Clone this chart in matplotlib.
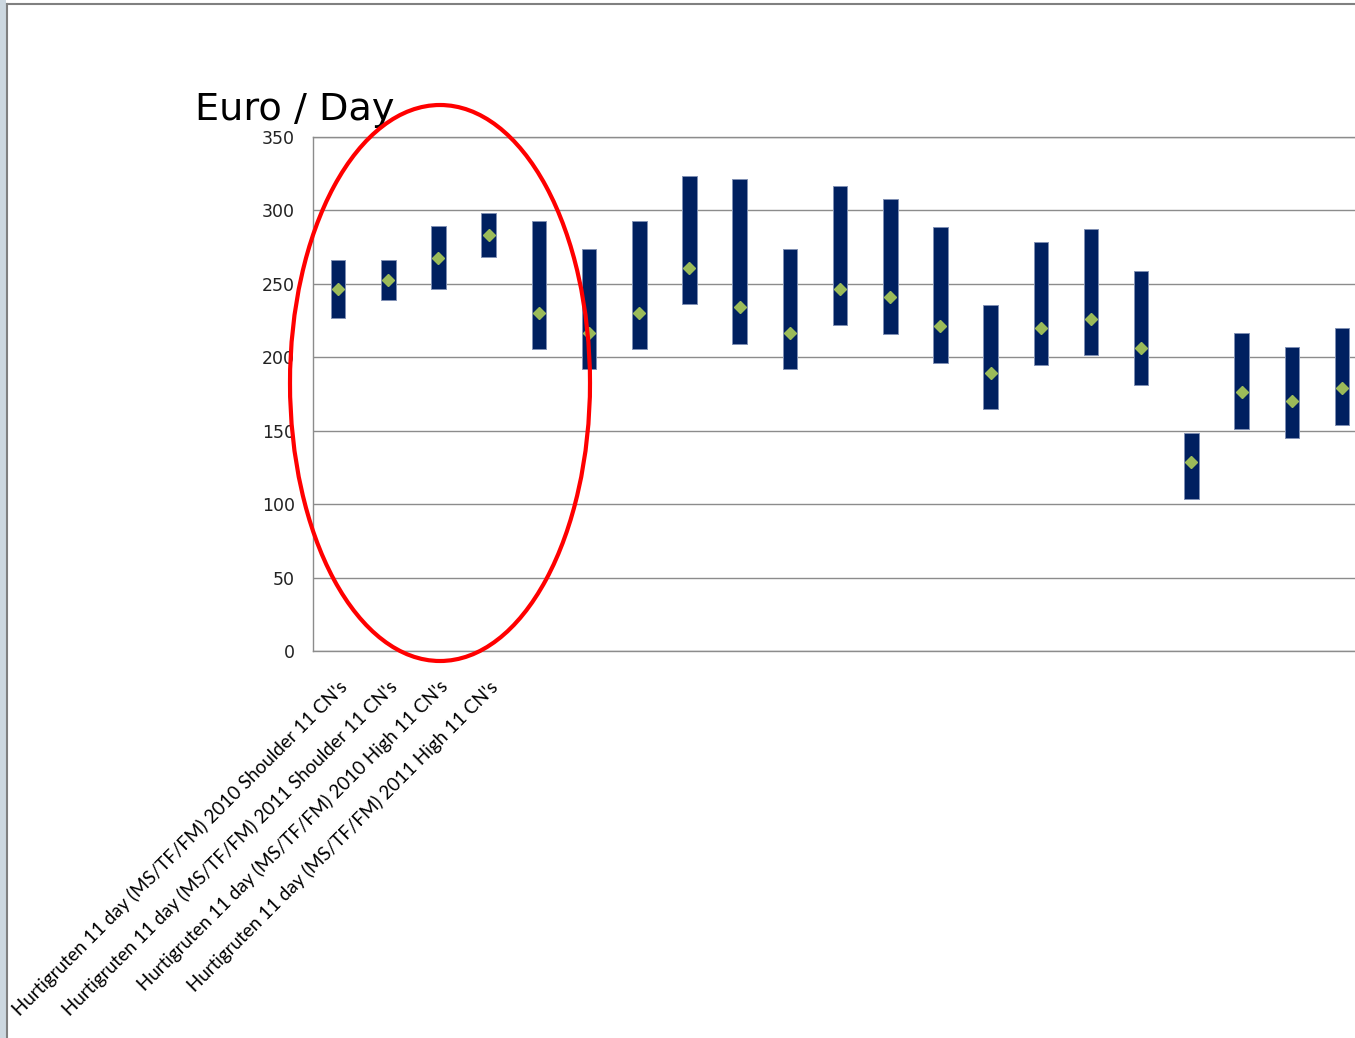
"""Euro / Day price ranges per cruise product (low-high bar + average diamond)."""
import matplotlib
matplotlib.use("Agg")
import matplotlib.pyplot as plt
import matplotlib.transforms as mtransforms
from matplotlib.lines import Line2D
from matplotlib.patches import Ellipse, Rectangle
import numpy as np

W, H = 1355, 1038

labels = [
    "Hurtigruten 11 day (MS/TF/FM) 2010 Shoulder 11 CN's",
    "Hurtigruten 11 day (MS/TF/FM) 2011 Shoulder 11 CN's",
    "Hurtigruten 11 day (MS/TF/FM) 2010 High 11 CN's",
    "Hurtigruten 11 day (MS/TF/FM) 2011 High 11 CN's",
] + [""] * 17

low = [226.5, 239.3, 246.3, 268.5, 205.4, 191.8, 205.4, 236.1, 209.0, 191.8, 221.8,
       215.9, 196.1, 164.8, 194.5, 201.3, 180.9, 103.8, 151.2, 145.0, 153.9]
high = [266.0, 266.0, 289.4, 298.3, 292.8, 273.7, 292.8, 323.7, 321.2, 273.7, 316.9,
        307.8, 288.7, 235.4, 278.7, 287.6, 258.9, 148.2, 216.3, 206.8, 220.2]
avg = [246.3, 252.6, 267.8, 283.0, 230.2, 216.8, 230.2, 261.1, 234.0, 216.5, 246.7,
       240.8, 221.3, 189.6, 219.7, 226.3, 206.3, 128.7, 176.1, 170.0, 179.1]

yticks = [0, 50, 100, 150, 200, 250, 300, 350]

x = np.arange(len(low))
low = np.array(low)
high = np.array(high)


def fx(px):
    return px / W


def fy(py):
    return 1 - py / H


fig = plt.figure(figsize=(W / 100, H / 100), dpi=100)
ax = fig.add_axes([fx(313), fy(651), fx(1355) - fx(313), fy(137) - fy(651)])

ax.bar(x, high - low, bottom=low, width=0.29, color="#002060",
       edgecolor="#8090b4", linewidth=0.7, zorder=3)
ax.plot(x, avg, linestyle="none", marker="D", markersize=6,
        color="#9BBB59", zorder=4)

ax.set_xlim(-0.5, 20 + 13 / 50.2)
ax.set_ylim(0, 350)
ax.set_yticks(yticks)
ax.set_xticks(x)
ax.set_xticklabels(labels, rotation=45, ha="right", va="top",
                   rotation_mode="anchor", family="Lato", fontsize=13.5)
off = mtransforms.ScaledTranslation(7 / 100, 0, fig.dpi_scale_trans)
for t in ax.get_xticklabels():
    t.set_transform(t.get_transform() + off)
ax.tick_params(axis="x", length=0, pad=19)
ax.tick_params(axis="y", length=0, pad=13, labelsize=12.5, labelcolor="#222222")

ax.grid(axis="y", color="#8c8c8c", linewidth=1, zorder=0)
ax.spines["right"].set_visible(False)
for s in ["left", "bottom", "top"]:
    ax.spines[s].set_color("#8c8c8c")
    ax.spines[s].set_linewidth(1)

fig.text(fx(195), fy(120), "Euro / Day", fontsize=27.5, ha="left", va="baseline")

# highlight ring round the first four products
fig.add_artist(Ellipse((fx(440), fy(383)), fx(300), 556 / H,
                       transform=fig.transFigure, fill=False,
                       edgecolor="#ff0000", linewidth=3, zorder=10))

# screenshot frame
fig.add_artist(Rectangle((0, 0), fx(6), 1, transform=fig.transFigure,
                         facecolor="#cdd8e0", edgecolor="none"))
fig.add_artist(Line2D([fx(7), fx(7)], [0, fy(4)], transform=fig.transFigure,
                      color="#808080", linewidth=1.5))
fig.add_artist(Line2D([fx(7), 1], [fy(4), fy(4)], transform=fig.transFigure,
                      color="#808080", linewidth=1.5))

fig.savefig("out.png", dpi=100)
